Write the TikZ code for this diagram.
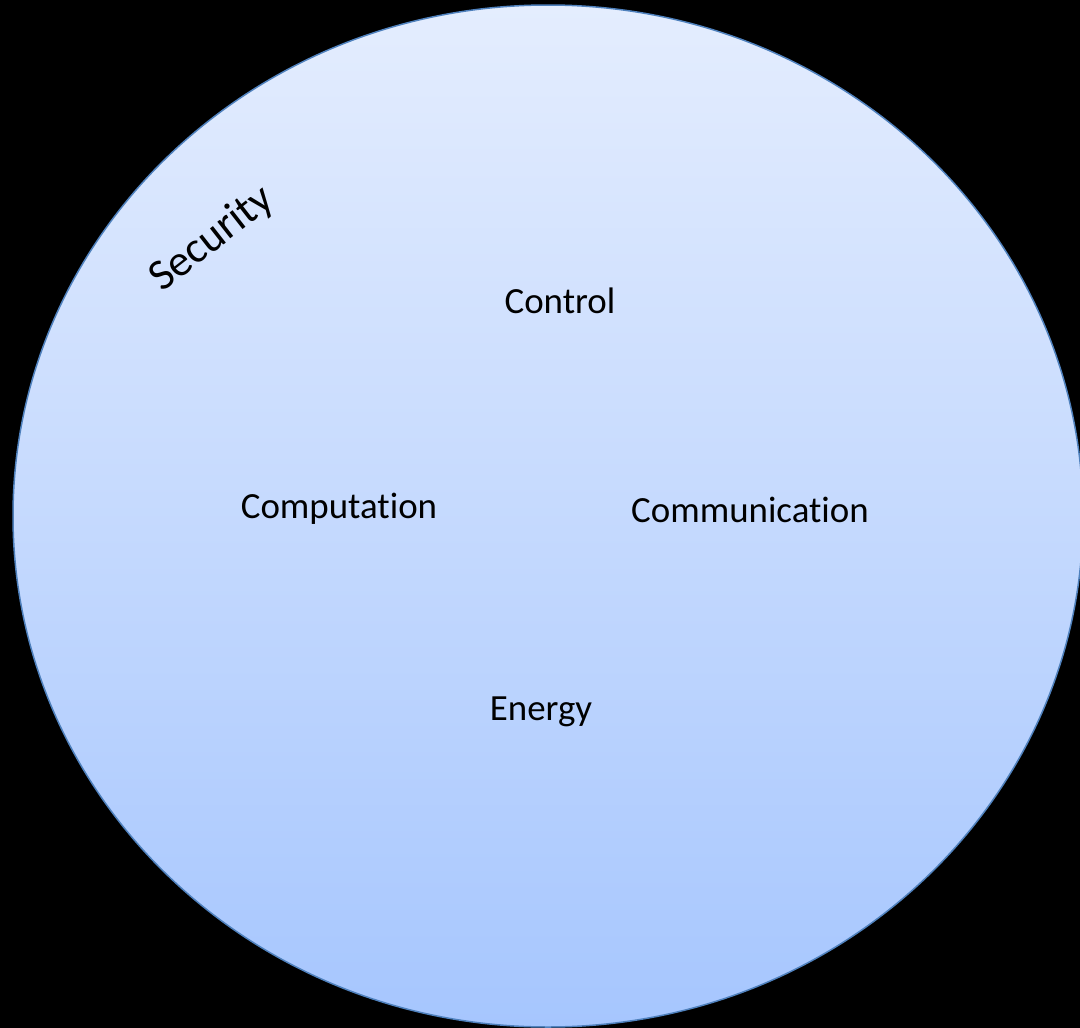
\documentclass[tikz,border=0pt]{standalone}
\usepackage{fontspec}
\setmainfont{Carlito}[Ligatures=NoCommon]
\usetikzlibrary{shapes.geometric}
\definecolor{topblue}{HTML}{E4EDFE}
\definecolor{botblue}{HTML}{A6C6FE}
\definecolor{edgeblue}{HTML}{4F81BD}
\tikzset{
  lbl/.style={anchor=base, inner sep=0pt, font=\fontsize{36.9}{44}\selectfont, text=black},
}
\begin{document}
\begin{tikzpicture}[x=1pt,y=-1pt]
\useasboundingbox (0,0) rectangle (1080,1028);
\fill[black] (0,0) rectangle (1080,1028);
\clip (0,0) rectangle (1080,1028);
\node[ellipse, minimum width=1070pt, minimum height=1022pt, inner sep=0pt,
      top color=topblue, bottom color=botblue, draw=edgeblue, line width=1.5pt]
      (circ) at (548,516) {};
\node[inner sep=0pt, rotate=38, font=\fontsize{44}{52}\selectfont] (sec) at (212,239) {Security};
\node[lbl] (ctrl) at (560,313) {Control};
\node[lbl] (comp) at (339,518) {Computation};
\node[lbl] (comm) at (750,522) {Communication};
\node[lbl] (en) at (541,720) {Energy};
\end{tikzpicture}
\end{document}
